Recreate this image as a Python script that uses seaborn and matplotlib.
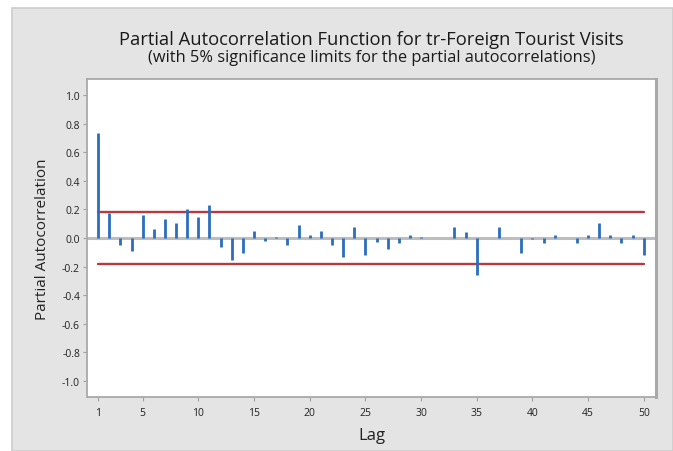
import numpy as np
import pandas as pd
import matplotlib
matplotlib.use("Agg")
import matplotlib.pyplot as plt
from matplotlib.patches import Rectangle
import seaborn as sns

# Partial autocorrelations, lags 1..50
lags = list(range(1, 51))
pacf = [
    0.735, 0.178, -0.049, -0.093, 0.162, 0.063, 0.134, 0.108, 0.203, 0.150,
    0.231, -0.065, -0.151, -0.107, 0.047, -0.023, 0.005, -0.049, 0.091, 0.023,
    0.050, -0.050, -0.135, 0.080, -0.119, -0.025, -0.077, -0.038, 0.020, 0.007,
    0.000, 0.000, 0.080, 0.039, -0.262, 0.000, 0.080, 0.000, -0.106, -0.004,
    -0.036, 0.020, 0.000, -0.036, 0.020, 0.104, 0.020, -0.037, 0.020, -0.118,
]
# 5% significance limit (2/sqrt(n))
sig_limit = 0.183

xticks = [1, 5, 10, 15, 20, 25, 30, 35, 40, 45, 50]
yticks = [-1.0, -0.8, -0.6, -0.4, -0.2, 0.0, 0.2, 0.4, 0.6, 0.8, 1.0]

title = "Partial Autocorrelation Function for tr-Foreign Tourist Visits"
subtitle = "(with 5% significance limits for the partial autocorrelations)"

df = pd.DataFrame({"Lag": lags, "PACF": pacf})

sns.set_style("white")
plt.rcParams["font.family"] = ["Open Sans", "DejaVu Sans"]

W, H = 673, 452
fig = plt.figure(figsize=(W / 100, H / 100), dpi=100, facecolor="white")

# grey graph region behind the plot
panel = Rectangle((12 / W, 0), 1 - 12 / W, 1 - 9 / H,
                  transform=fig.transFigure, facecolor="#e4e4e4",
                  edgecolor="#cdcdcd", linewidth=1.2, zorder=-10)
fig.add_artist(panel)

ax = fig.add_axes([87 / W, 1 - 398 / H, (656 - 87) / W, (398 - 80) / H])
ax.set_zorder(1)
ax.set_facecolor("white")

# zero reference line
ax.axhline(0, color="#bdbdbd", linewidth=2.2, zorder=1)

# PACF spikes
ax.vlines(df["Lag"], 0, df["PACF"], color="#2a6ebd", linewidth=2.0, zorder=3)

# significance limits
sns.lineplot(x=[lags[0], lags[-1]], y=[sig_limit, sig_limit], color="#b83a3e",
             linewidth=1.7, zorder=2, ax=ax)
sns.lineplot(x=[lags[0], lags[-1]], y=[-sig_limit, -sig_limit], color="#b83a3e",
             linewidth=1.7, zorder=2, ax=ax)

ax.set_xlim(0.0, 51.1)
ax.set_ylim(-1.115, 1.115)
ax.set_xticks(xticks)
ax.set_xticklabels([str(t) for t in xticks])
ax.set_yticks(yticks)
ax.set_yticklabels([f"{t:.1f}" for t in yticks])

for side in ["left", "right", "top", "bottom"]:
    ax.spines[side].set_visible(True)
    ax.spines[side].set_color("#a9a9a9")
    ax.spines[side].set_linewidth(1.3)
ax.spines["right"].set_linewidth(2.2)

ax.tick_params(axis="both", which="major", direction="out", length=3,
               width=0.8, color="#a0a0a0", labelsize=7.5, labelcolor="#222222",
               pad=2, left=True, bottom=True)
ax.tick_params(axis="x", pad=4)

ax.set_xlabel("Lag", fontsize=12, color="#222222", labelpad=7)
ax.set_ylabel("Partial Autocorrelation", fontsize=11, color="#222222", labelpad=9)

fig.text(371.5 / W, 1 - 40 / H, title, ha="center", va="center",
         fontsize=13.2, color="#1a1a1a")
fig.text(371.5 / W, 1 - 58 / H, subtitle, ha="center", va="center",
         fontsize=11.8, color="#1a1a1a")

fig.savefig("out.png", dpi=100, facecolor="white")
